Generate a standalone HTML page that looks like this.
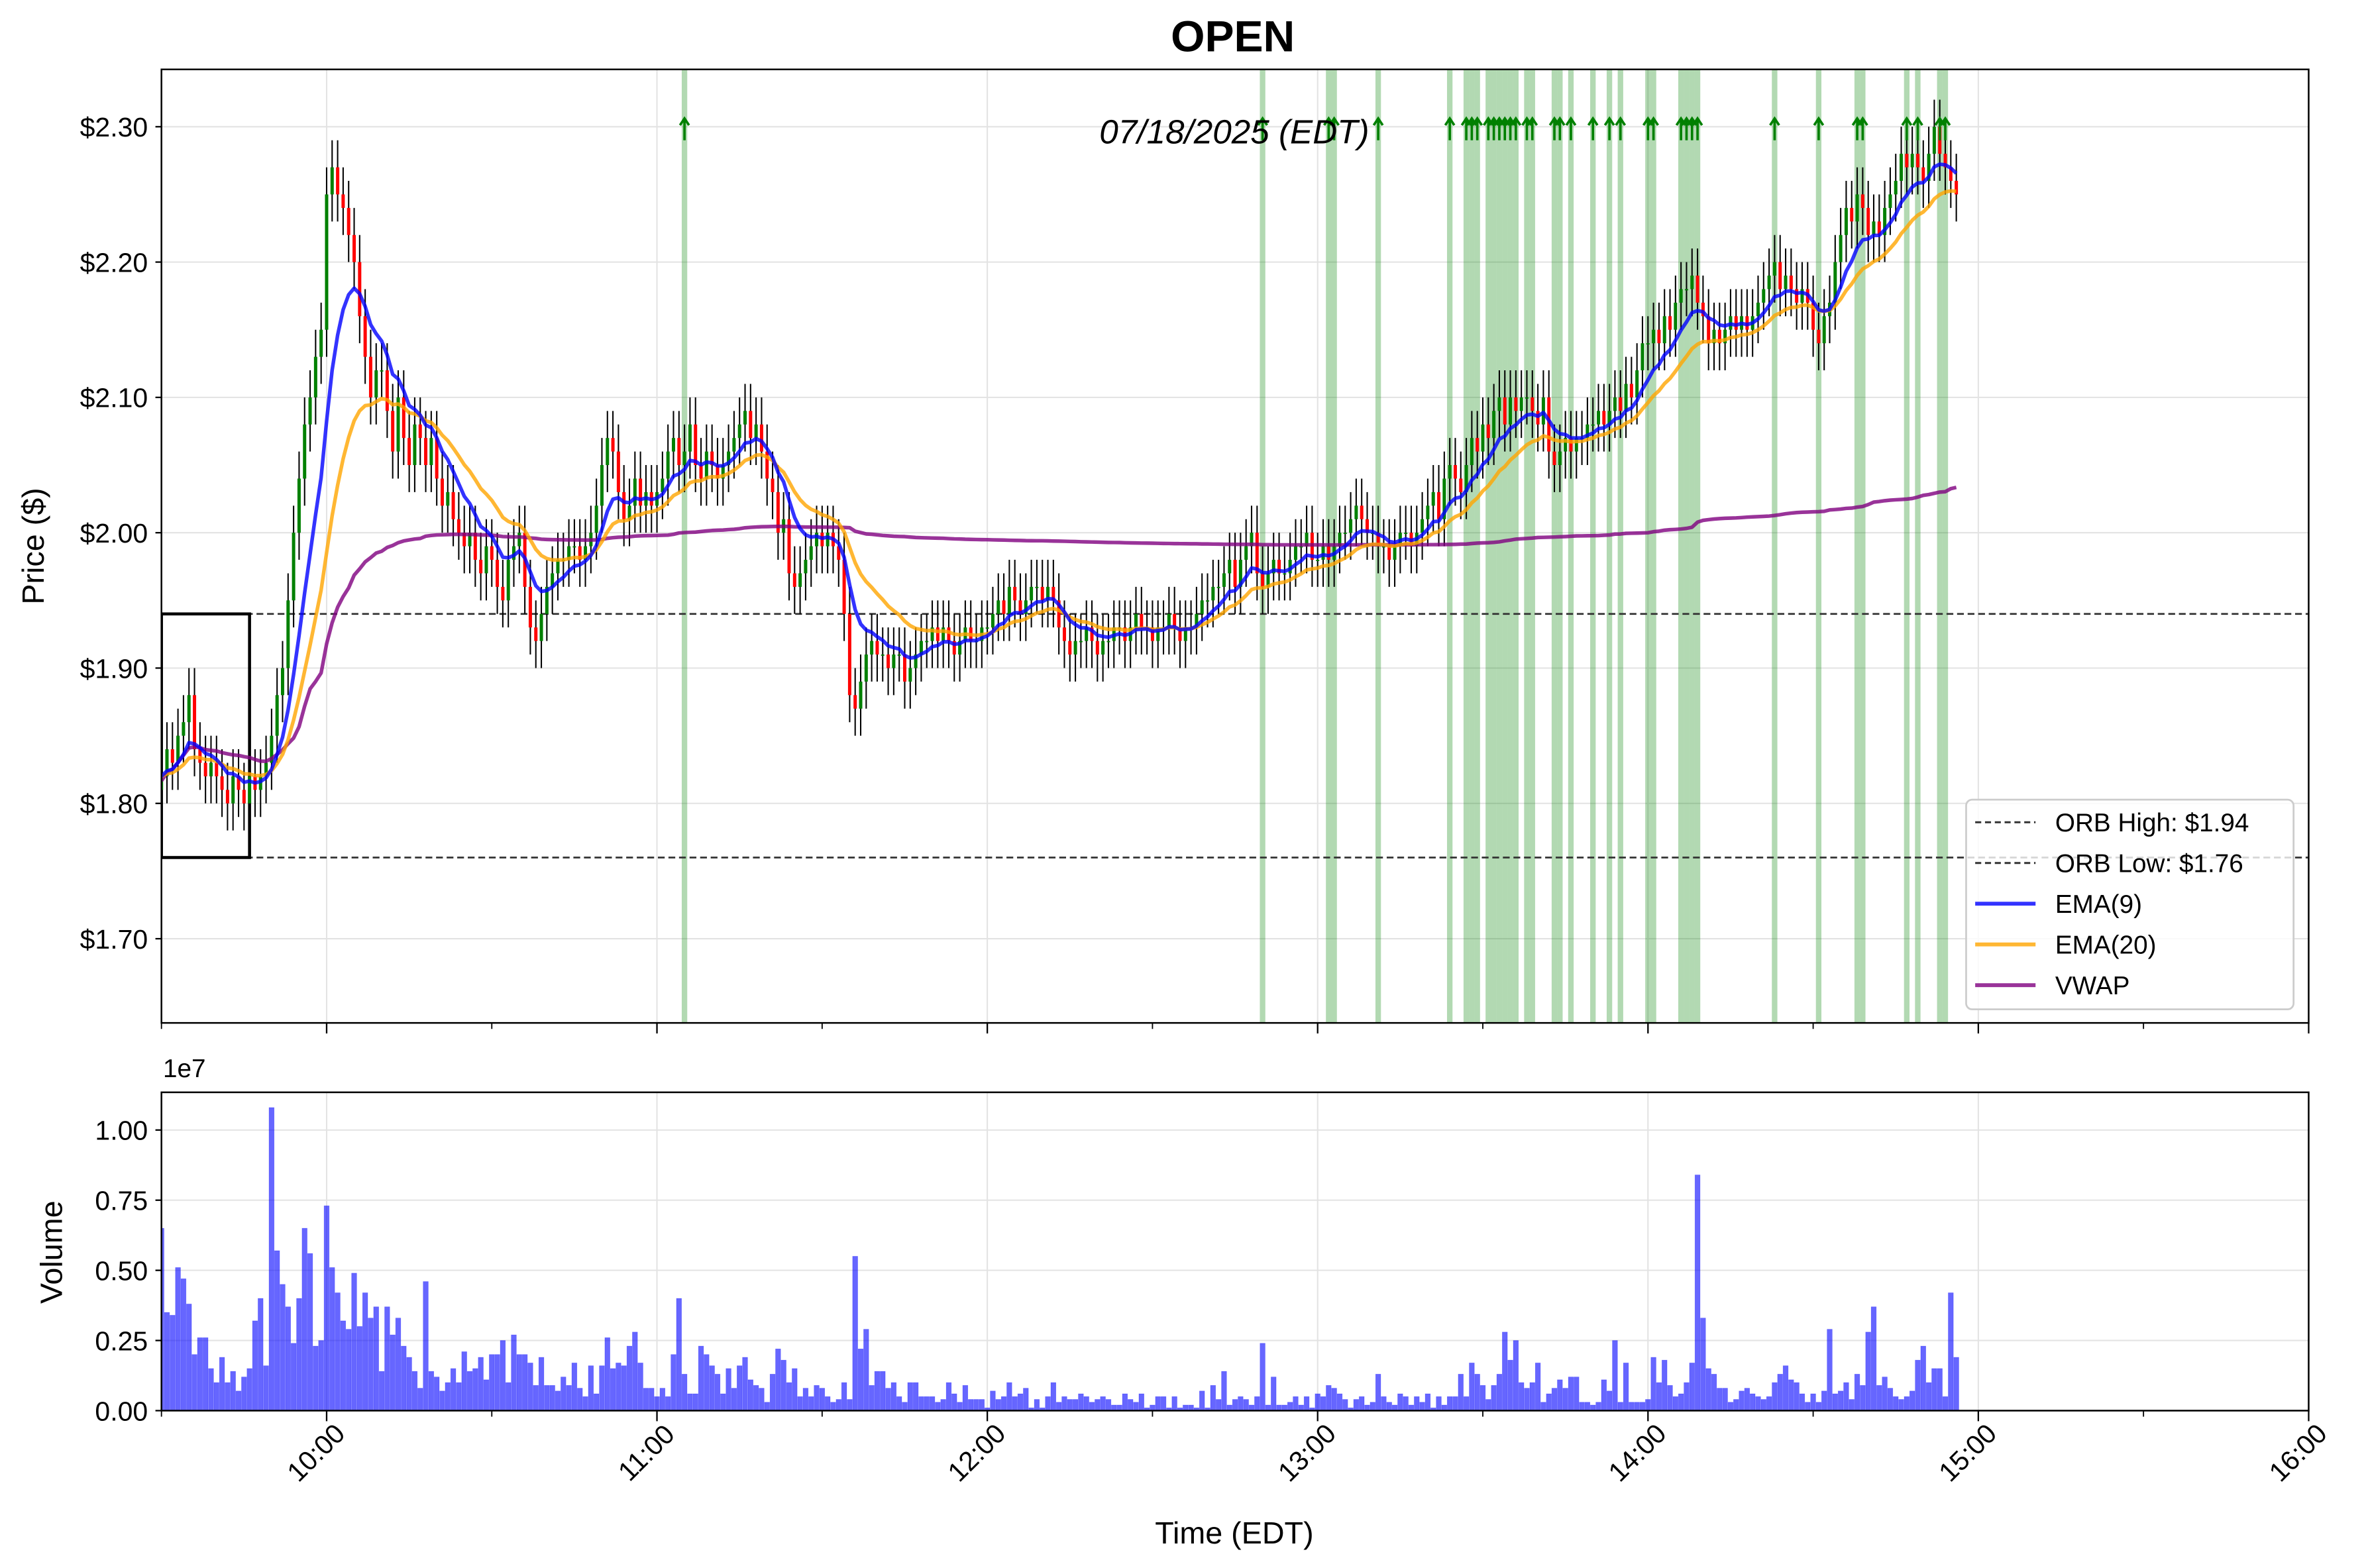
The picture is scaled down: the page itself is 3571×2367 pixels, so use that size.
<!DOCTYPE html>
<html><head><meta charset="utf-8"><title>OPEN</title>
<style>html,body{margin:0;padding:0;background:#fff;}svg{display:block;}text{font-family:"Liberation Sans",sans-serif;}</style>
</head><body>
<svg id="chart" xmlns="http://www.w3.org/2000/svg" width="3571" height="2367" viewBox="0 0 1568 1039.3" preserveAspectRatio="none">
<defs>
<clipPath id="pclip"><rect x="107" y="46" width="1423" height="632"/></clipPath>
<clipPath id="vclip"><rect x="107" y="724" width="1423" height="211"/></clipPath>
</defs>
<rect x="0" y="0" width="1568" height="1040" fill="#fff"/>
<text x="817" y="34" text-anchor="middle" font-size="29" font-weight="bold">OPEN</text>
<g id="grid"></g>
<g id="signals" clip-path="url(#pclip)"></g>
<g id="orb" clip-path="url(#pclip)"></g>
<g id="candles" clip-path="url(#pclip)"></g>
<g id="lines" clip-path="url(#pclip)"></g>
<g id="arrows"></g>
<g id="vol" clip-path="url(#vclip)"></g>
<text x="818" y="95" text-anchor="middle" font-size="22.5" font-style="italic">07/18/2025 (EDT)</text>
<rect x="107" y="46" width="1423" height="632" fill="none" stroke="#000" stroke-width="1.1"/>
<rect x="107" y="724" width="1423" height="211" fill="none" stroke="#000" stroke-width="1.1"/>
<g id="axes"></g>
<text transform="translate(29,362) rotate(-90)" text-anchor="middle" font-size="20.5">Price ($)</text>
<text transform="translate(41,830) rotate(-90)" text-anchor="middle" font-size="20.5">Volume</text>
<text x="108" y="714" font-size="17">1e7</text>
<text x="818" y="1023" text-anchor="middle" font-size="20.5">Time (EDT)</text>
<g>
<rect x="1303" y="530" width="217" height="139" rx="4" fill="#fff" fill-opacity="0.8" stroke="#ccc" stroke-width="1.2"/>
<line x1="1309" y1="545" x2="1349" y2="545" stroke="#333" stroke-width="1.3" stroke-dasharray="4,2.5"/>
<text x="1362" y="551" font-size="17">ORB High: $1.94</text>
<line x1="1309" y1="572" x2="1349" y2="572" stroke="#333" stroke-width="1.3" stroke-dasharray="4,2.5"/>
<text x="1362" y="578" font-size="17">ORB Low: $1.76</text>
<line x1="1309" y1="599" x2="1349" y2="599" stroke="#0000ff" stroke-opacity="0.8" stroke-width="2.6"/>
<text x="1362" y="605" font-size="17">EMA(9)</text>
<line x1="1309" y1="626" x2="1349" y2="626" stroke="#ffa500" stroke-opacity="0.8" stroke-width="2.6"/>
<text x="1362" y="632" font-size="17">EMA(20)</text>
<line x1="1309" y1="653" x2="1349" y2="653" stroke="#800080" stroke-opacity="0.8" stroke-width="2.6"/>
<text x="1362" y="659" font-size="17">VWAP</text>
</g>
</svg>
<script>
const closes = [
1.82,1.84,1.83,1.85,1.86,1.88,1.84,1.83,1.82,1.83,
1.82,1.81,1.80,1.82,1.81,1.80,1.82,1.81,1.82,1.83,
1.85,1.88,1.90,1.95,2.00,2.04,2.08,2.10,2.13,2.15,
2.25,2.27,2.25,2.24,2.22,2.20,2.16,2.13,2.10,2.12,
2.12,2.09,2.06,2.10,2.07,2.05,2.08,2.07,2.05,2.07,
2.04,2.02,2.03,2.01,2.00,1.99,2.00,1.98,1.97,1.99,
1.98,1.96,1.95,1.98,1.99,2.00,1.96,1.93,1.92,1.94,
1.96,1.97,1.98,1.98,1.99,1.99,1.98,1.99,2.00,2.02,
2.05,2.07,2.06,2.03,2.01,2.02,2.04,2.02,2.03,2.02,
2.03,2.04,2.06,2.07,2.05,2.06,2.08,2.05,2.04,2.06,
2.05,2.04,2.05,2.06,2.07,2.08,2.09,2.07,2.08,2.06,
2.04,2.03,2.00,2.01,1.97,1.96,1.97,1.98,1.99,2.00,
1.99,2.00,1.99,1.98,1.94,1.88,1.87,1.89,1.91,1.92,
1.91,1.91,1.90,1.91,1.91,1.89,1.90,1.91,1.92,1.92,
1.93,1.92,1.93,1.92,1.91,1.92,1.93,1.92,1.92,1.93,
1.93,1.94,1.95,1.94,1.96,1.95,1.94,1.95,1.96,1.96,
1.95,1.96,1.95,1.93,1.92,1.91,1.92,1.92,1.93,1.92,
1.91,1.92,1.92,1.93,1.93,1.92,1.93,1.94,1.93,1.93,
1.92,1.93,1.93,1.94,1.93,1.92,1.93,1.93,1.94,1.95,
1.95,1.96,1.96,1.97,1.98,1.96,1.98,1.99,2.00,1.97,
1.96,1.97,1.98,1.97,1.97,1.98,1.99,1.99,2.00,1.98,
1.98,1.99,1.98,1.99,2.00,2.00,2.01,2.02,2.01,2.00,
2.00,1.99,1.99,1.98,1.99,2.00,2.00,1.99,2.00,2.01,
2.02,2.03,2.01,2.04,2.05,2.04,2.03,2.05,2.07,2.06,
2.08,2.07,2.09,2.10,2.08,2.10,2.09,2.10,2.10,2.09,
2.08,2.10,2.06,2.05,2.06,2.07,2.06,2.07,2.07,2.08,
2.08,2.09,2.08,2.09,2.10,2.09,2.11,2.10,2.12,2.14,
2.14,2.15,2.14,2.16,2.15,2.17,2.18,2.18,2.19,2.17,
2.16,2.14,2.15,2.14,2.15,2.16,2.15,2.16,2.15,2.16,
2.17,2.18,2.19,2.20,2.18,2.19,2.18,2.17,2.18,2.17,
2.15,2.14,2.16,2.17,2.20,2.22,2.24,2.23,2.25,2.24,
2.22,2.23,2.22,2.24,2.25,2.26,2.28,2.27,2.28,2.27,
2.26,2.28,2.30,2.28,2.27,2.26,2.25];
const volumes = [
0.65,0.35,0.34,0.51,0.47,0.38,0.20,0.26,0.26,0.15,
0.10,0.19,0.10,0.14,0.07,0.12,0.15,0.32,0.40,0.16,
1.08,0.57,0.45,0.37,0.24,0.40,0.65,0.56,0.23,0.25,
0.73,0.51,0.42,0.32,0.29,0.49,0.30,0.42,0.33,0.37,
0.14,0.37,0.27,0.33,0.23,0.19,0.14,0.08,0.46,0.14,
0.12,0.07,0.10,0.15,0.10,0.21,0.14,0.15,0.19,0.11,
0.20,0.20,0.25,0.10,0.27,0.20,0.20,0.17,0.09,0.19,
0.09,0.09,0.07,0.12,0.09,0.17,0.08,0.05,0.16,0.06,
0.16,0.26,0.15,0.17,0.16,0.23,0.28,0.17,0.08,0.08,
0.05,0.08,0.05,0.20,0.40,0.13,0.06,0.06,0.23,0.20,
0.16,0.13,0.06,0.15,0.08,0.16,0.19,0.11,0.09,0.08,
0.03,0.13,0.22,0.18,0.10,0.15,0.05,0.08,0.05,
0.09,0.08,0.05,0.03,0.04,0.10,0.04,0.55,0.22,0.29,
0.09,0.14,0.14,0.08,0.10,0.05,0.03,0.10,0.10,0.05,
0.05,0.05,0.03,0.04,0.10,0.06,0.03,0.09,0.04,0.04,
0.04,0.01,0.07,0.04,0.05,0.10,0.05,0.06,0.08,0.01,
0.04,0.01,0.05,0.10,0.03,0.05,0.04,0.04,0.06,0.05,
0.03,0.04,0.05,0.04,0.02,0.02,0.06,0.04,0.03,0.06,
0.01,0.02,0.05,0.05,0.01,0.05,0.01,0.02,0.02,0.01,
0.07,0.01,0.09,0.04,0.14,0.02,0.04,0.05,0.04,0.02,
0.05,0.24,0.02,0.12,0.02,0.02,0.03,0.05,0.02,0.05,
0.01,0.06,0.05,0.09,0.08,0.06,0.04,0.01,0.04,0.05,
0.02,0.03,0.13,0.05,0.03,0.02,0.06,0.05,0.02,0.05,
0.03,0.06,0.01,0.05,0.02,0.05,0.05,0.13,0.05,0.17,
0.13,0.09,0.04,0.09,0.13,0.28,0.18,0.25,0.10,0.08,
0.10,0.17,0.03,0.06,0.08,0.11,0.08,0.12,0.12,0.03,
0.03,0.02,0.03,0.11,0.07,0.25,0.03,0.17,0.03,0.03,
0.03,0.04,0.19,0.10,0.18,0.09,0.05,0.06,0.10,0.17,
0.84,0.33,0.15,0.13,0.08,0.08,0.03,0.04,0.07,0.08,
0.06,0.05,0.04,0.05,0.10,0.13,0.16,0.11,0.10,0.06,
0.03,0.06,0.03,0.07,0.29,0.06,0.07,0.10,0.04,0.13,
0.09,0.28,0.37,0.09,0.12,0.08,0.05,0.04,0.05,0.07,
0.18,0.23,0.10,0.15,0.15,0.05,0.42,0.19,0.10,0.15];
const signalMinutes = [95,200,212,213,221,234,237,238,239,241,242,243,244,245,246,248,249,253,254,256,260,263,265,270,271,276,277,278,279,293,301,308,309,317,319,323,324];
const priceTicks = [1.70,1.80,1.90,2.00,2.10,2.20,2.30];
const priceTickLabels = ["$1.70","$1.80","$1.90","$2.00","$2.10","$2.20","$2.30"];
const volTicks = [0,0.25,0.5,0.75,1.0];
const volTickLabels = ["0.00","0.25","0.50","0.75","1.00"];
const hourTicks = [30,90,150,210,270,330,390];
const hourTickLabels = ["10:00","11:00","12:00","13:00","14:00","15:00","16:00"];
const minorTicks = [0,60,120,180,240,300,360];
const orbHigh = 1.94, orbLow = 1.76, orbMinutes = 16, firstOpen = 1.81, wick = 0.02;

const NS="http://www.w3.org/2000/svg";
const X0=107,X1=1530,PMIN=0,PMAX=390;
const xOf=m=>X0+(m-PMIN)*(X1-X0)/(PMAX-PMIN);
const yP=p=>84+(2.30-p)*897;
const yV=v=>935-v*186;
function mk(tag,attrs,parent){const e=document.createElementNS(NS,tag);for(const k in attrs)e.setAttribute(k,attrs[k]);parent.appendChild(e);return e;}
const N=Math.min(closes.length,volumes.length);
const G=id=>document.getElementById(id);

const grid=G('grid');
priceTicks.forEach(p=>{const l=mk('line',{x1:X0,x2:X1,y1:yP(p),y2:yP(p),stroke:'#e3e3e3','stroke-width':0.9},grid);});
volTicks.forEach(v=>{const l=mk('line',{x1:X0,x2:X1,y1:yV(v),y2:yV(v),stroke:'#e3e3e3','stroke-width':0.9},grid);});
hourTicks.forEach(m=>{[[46,678],[724,935]].forEach(r=>{const l=mk('line',{x1:xOf(m),x2:xOf(m),y1:r[0],y2:r[1],stroke:'#e3e3e3','stroke-width':0.9},grid);});});

const sg=G('signals');
signalMinutes.forEach(m=>{const r=mk('rect',{x:xOf(m-0.5),y:46,width:xOf(1)-xOf(0),height:632,fill:'#008000','fill-opacity':0.3},sg);});

const og=G('orb');
[orbHigh,orbLow].forEach((p,i)=>{const l=mk('line',{x1:X0,x2:X1,y1:yP(p),y2:yP(p),stroke:'#333','stroke-width':1.2,'stroke-dasharray':'4.5,2.5'},og);});
const ob=mk('rect',{x:xOf(0),y:yP(orbHigh),width:xOf(orbMinutes)-xOf(0),height:yP(orbLow)-yP(orbHigh),fill:'none',stroke:'#000','stroke-width':2},og);



const cg=G('candles');
const bw=(xOf(1)-xOf(0))*0.6;
const highs=[],lows=[],opens=[];
for(let i=0;i<N;i++){
 const o=i?closes[i-1]:firstOpen,c=closes[i];
 opens.push(o);const h=Math.max(o,c)+wick,l=Math.min(o,c)-wick;highs.push(h);lows.push(l);
 const x=xOf(i);
 const w=mk('line',{x1:x,x2:x,y1:yP(h),y2:yP(l),stroke:'#000','stroke-width':0.9},cg);
 
 
 const top=yP(Math.max(o,c)),hh=Math.max(0.8,Math.abs(yP(o)-yP(c)));
 const b=mk('rect',{x:x-bw/2,y:top,width:bw,height:hh,fill:c>=o?'#008000':'#ff0000'},cg);
 
 
}

function ema(arr,span){const a=2/(span+1);const out=[];arr.forEach((v,i)=>out.push(i?a*v+(1-a)*out[i-1]:v));return out;}
const e9=ema(closes.slice(0,N),9),e20=ema(closes.slice(0,N),20);
const vw=[];let pv=0,vv=0;
for(let i=0;i<N;i++){const tp=(highs[i]+lows[i]+closes[i])/3;pv+=tp*volumes[i];vv+=volumes[i];vw.push(pv/vv);}
const lg=G('lines');
[[vw,'#800080','vwap-line'],[e20,'#ffa500','ema20-line'],[e9,'#0000ff','ema9-line']].forEach(s=>{
 const d=s[0].map((v,i)=>(i?'L':'M')+xOf(i).toFixed(2)+','+yP(v).toFixed(2)).join(' ');
 const p=mk('path',{d:d,fill:'none',stroke:s[1],'stroke-opacity':0.8,'stroke-width':2.4,'stroke-linejoin':'round'},lg);
 
 
});

const ag=G('arrows');
signalMinutes.forEach(m=>{const x=xOf(m);
 const a=mk('path',{d:`M${x},93 L${x},79 M${x-3},83 L${x},78.5 L${x+3},83`,stroke:'#008000','stroke-width':1.6,fill:'none'},ag);
 
 
});

const vg=G('vol');
const vbw=(xOf(1)-xOf(0))*0.92;
for(let i=0;i<N;i++){
 const r=mk('rect',{x:xOf(i)-vbw/2,y:yV(volumes[i]),width:vbw,height:935-yV(volumes[i]),fill:'#0000ff','fill-opacity':0.6,stroke:'#0000ff','stroke-opacity':0.35,'stroke-width':0.3},vg);
 
 
}

const ax=G('axes');
priceTicks.forEach((p,i)=>{
 mk('line',{x1:X0-4,x2:X0,y1:yP(p),y2:yP(p),stroke:'#000','stroke-width':1},ax);
 const t=mk('text',{x:X0-9,y:yP(p)+6.5,'text-anchor':'end','font-size':18},ax);t.textContent=priceTickLabels[i];
 
 
});
volTicks.forEach((v,i)=>{
 mk('line',{x1:X0-4,x2:X0,y1:yV(v),y2:yV(v),stroke:'#000','stroke-width':1},ax);
 const t=mk('text',{x:X0-9,y:yV(v)+6.5,'text-anchor':'end','font-size':18},ax);t.textContent=volTickLabels[i];
 
 
});
hourTicks.forEach((m,i)=>{
 const x=xOf(m);
 mk('line',{x1:x,x2:x,y1:678,y2:685,stroke:'#000','stroke-width':1},ax);
 mk('line',{x1:x,x2:x,y1:935,y2:942,stroke:'#000','stroke-width':1},ax);
 const t=mk('text',{transform:`translate(${x-7},${963}) rotate(-45)`,'text-anchor':'middle','font-size':18,y:6},ax);t.textContent=hourTickLabels[i];
 
 
});
minorTicks.forEach(m=>{const x=xOf(m);
 mk('line',{x1:x,x2:x,y1:678,y2:682,stroke:'#000','stroke-width':0.8},ax);
 mk('line',{x1:x,x2:x,y1:935,y2:939,stroke:'#000','stroke-width':0.8},ax);
});
</script>
</body></html>
